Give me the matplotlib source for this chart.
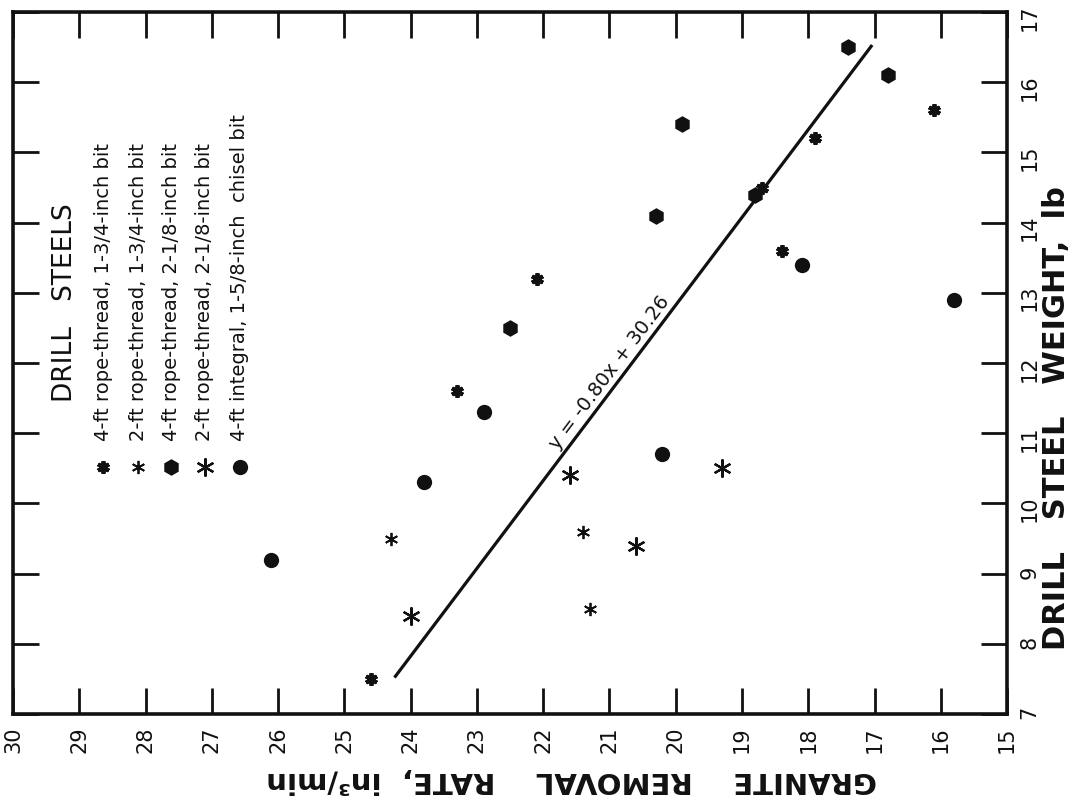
import matplotlib
matplotlib.use("Agg")
import matplotlib.pyplot as plt

# ---- data (weight in lb, granite removal rate in in^3/min) ----
weight_4ft_rope_134 = [7.5, 11.6, 13.2, 13.6, 14.5, 15.2, 15.6]
rate_4ft_rope_134 = [24.6, 23.3, 22.1, 18.4, 18.7, 17.9, 16.1]

weight_2ft_rope_134 = [9.5, 9.6, 8.5]
rate_2ft_rope_134 = [24.3, 21.4, 21.3]

weight_4ft_rope_218 = [12.5, 14.1, 15.4, 14.4, 16.5, 16.1]
rate_4ft_rope_218 = [22.5, 20.3, 19.9, 18.8, 17.4, 16.8]

weight_2ft_rope_218 = [8.4, 10.4, 9.4, 10.5]
rate_2ft_rope_218 = [24.0, 21.6, 20.6, 19.3]

weight_4ft_integral = [9.2, 10.3, 11.3, 10.7, 13.4, 12.9]
rate_4ft_integral = [26.1, 23.8, 22.9, 20.2, 18.1, 15.8]

fit_slope = -0.80
fit_intercept = 30.26
fit_weight_range = [7.52, 16.53]

legend_labels = [
    "4-ft rope-thread, 1-3/4-inch bit",
    "2-ft rope-thread, 1-3/4-inch bit",
    "4-ft rope-thread, 2-1/8-inch bit",
    "2-ft rope-thread, 2-1/8-inch bit",
    "4-ft integral, 1-5/8-inch  chisel bit",
]

rate_ticks = list(range(15, 31))
weight_ticks = list(range(7, 18))

INK = "#111111"

fig = plt.figure(figsize=(10.78, 7.97), dpi=100)
fig.patch.set_facecolor("white")
ax = fig.add_axes([0.0121, 0.1041, 0.9221, 0.8808])

ax.set_xlim(30, 15)
ax.set_ylim(7, 17)
ax.set_xticks(rate_ticks)
ax.set_yticks(weight_ticks)

for s in ax.spines.values():
    s.set_linewidth(2.6)
    s.set_color(INK)

ax.tick_params(axis="both", direction="in", length=19, width=2.0, color=INK,
               top=True, bottom=True, left=True, right=True,
               labelleft=False, labelright=True, labelbottom=True, labeltop=False,
               pad=9, labelsize=15, labelcolor=INK)
ax.tick_params(axis="x", labelrotation=90)
ax.tick_params(axis="y", labelrotation=90)

# ---- series ----
styles = [
    dict(marker=(6, 2, 0), ms=9, mew=2.8),
    dict(marker=(6, 2, 0), ms=9.5, mew=1.3),
    dict(marker="h", ms=12, mew=0),
    dict(marker=(6, 2, 0), ms=13, mew=1.6),
    dict(marker="o", ms=11, mew=0),
]
series = [
    (rate_4ft_rope_134, weight_4ft_rope_134),
    (rate_2ft_rope_134, weight_2ft_rope_134),
    (rate_4ft_rope_218, weight_4ft_rope_218),
    (rate_2ft_rope_218, weight_2ft_rope_218),
    (rate_4ft_integral, weight_4ft_integral),
]
for (r, w), st in zip(series, styles):
    ax.plot(r, w, linestyle="none", color=INK, mfc=INK, mec=INK, **st)

# ---- regression line ----
fit_rate = [fit_slope * w + fit_intercept for w in fit_weight_range]
ax.plot(fit_rate, fit_weight_range, color=INK, lw=2.3, solid_capstyle="butt")
ax.text(21.0, 11.86, "y = -0.80x + 30.26", rotation=53, ha="center", va="center",
        fontsize=14, color=INK, rotation_mode="anchor")

# ---- legend (rotated, as in the reference) ----
ax.text(0.052, 0.444, "DRILL   STEELS", transform=ax.transAxes, rotation=90,
        ha="center", va="bottom", fontsize=19, color=INK)
leg_x = [0.0905, 0.1258, 0.159, 0.193, 0.228]
for x, st, lab in zip(leg_x, styles, legend_labels):
    ax.plot([x], [0.352], transform=ax.transAxes, linestyle="none", color=INK,
            mfc=INK, mec=INK, clip_on=False, **st)
    ax.text(x, 0.389, lab, transform=ax.transAxes, rotation=90, ha="center",
            va="bottom", fontsize=14, color=INK)

# ---- axis titles ----
fig.text(0.53, 0.0213, "GRANITE    REMOVAL    RATE,  in³/min", rotation=180,
         ha="center", va="center", fontsize=21, fontweight="bold", color=INK)
fig.text(0.9805, 0.475, "DRILL   STEEL   WEIGHT,  lb", rotation=90,
         ha="center", va="center", fontsize=22, fontweight="bold", color=INK)

fig.savefig("out.png", dpi=100, facecolor="white")
